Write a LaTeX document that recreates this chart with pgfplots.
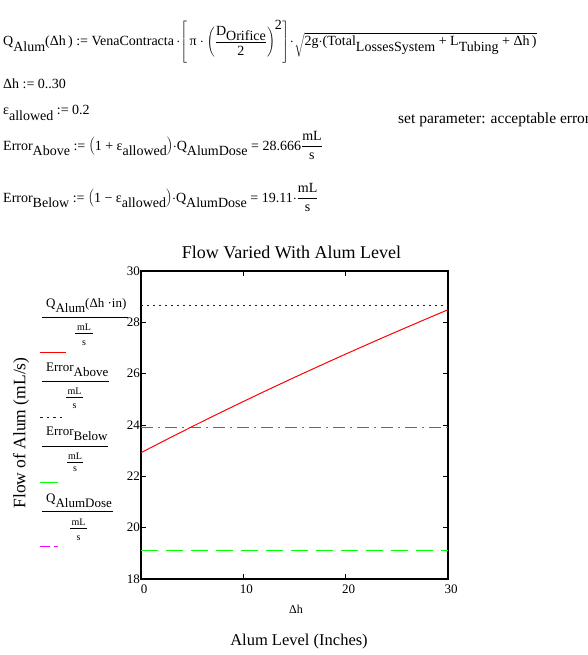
\documentclass[border=0pt]{standalone}
\usepackage{pgfplots}
\pgfplotsset{compat=1.18}
\usepackage{fontspec}
\setmainfont{Liberation Serif}
\newcommand{\sub}[1]{\raisebox{-0.4em}{#1}}
\newcommand{\fs}[1]{\fontsize{#1}{#1}\selectfont}
\definecolor{mcred}{RGB}{255,0,0}
\definecolor{mcblue}{RGB}{0,0,255}
\definecolor{mcgreen}{RGB}{0,255,0}
\definecolor{mcmag}{RGB}{255,0,255}
\pgfplotstableread{
h Q
0 22.920
1 23.127
2 23.332
3 23.536
4 23.738
5 23.938
6 24.137
7 24.334
8 24.529
9 24.723
10 24.915
11 25.106
12 25.296
13 25.484
14 25.670
15 25.856
16 26.039
17 26.222
18 26.404
19 26.584
20 26.763
21 26.940
22 27.117
23 27.293
24 27.467
25 27.640
26 27.812
27 27.983
28 28.154
29 28.323
30 28.491
}\qalum
\begin{document}
\begin{tikzpicture}
\useasboundingbox (0,0) rectangle (588pt,-655pt);
\fill[white] (0,0) rectangle (588pt,-655pt);
% ---------- worksheet text ----------
\node[anchor=base west, inner sep=0pt, font=\fs{14}] at (3pt,-46pt)
 {Q\sub{Alum}(Δh\,) := VenaContracta$\,\cdot\!\left[\,\mbox{π}\cdot\left(\displaystyle\frac{\mbox{D\sub{Orifice}}}{\mbox{2}}\right)^{\mbox{2}}\right]\!\cdot\!\sqrt{\mbox{2g$\cdot$(Total\sub{LossesSystem} + L\sub{Tubing} + Δh\,)}}$};
\node[anchor=base west, inner sep=0pt, font=\fs{14}] at (3pt,-89pt) {Δh := 0..30};
\node[anchor=base west, inner sep=0pt, font=\fs{14}] at (3pt,-115pt) {ε\sub{allowed} := 0.2};
\node[anchor=base west, inner sep=0pt, font=\fs{15.5}] at (398pt,-124pt) {set parameter: acceptable error};
\node[anchor=base west, inner sep=0pt, font=\fs{14}] at (3pt,-150pt)
 {Error\sub{Above} := $\left(\mbox{1 + ε\sub{allowed}}\right)$$\cdot$Q\sub{AlumDose} = 28.666$\displaystyle\frac{\mbox{mL}}{\mbox{s}}$};
\node[anchor=base west, inner sep=0pt, font=\fs{14}] at (3pt,-202pt)
 {Error\sub{Below} := $\left(\mbox{1 − ε\sub{allowed}}\right)$$\cdot$Q\sub{AlumDose} = 19.11$\cdot\displaystyle\frac{\mbox{mL}}{\mbox{s}}$};
% ---------- chart ----------
\begin{axis}[at={(141pt,-579pt)}, anchor=south west, scale only axis,
  width=307pt, height=308pt,
  xmin=0, xmax=30, ymin=18, ymax=30,
  xtick={0,10,20,30}, ytick={18,20,22,24,26,28,30},
  tick pos=both, xticklabel pos=lower, yticklabel pos=left,
  tick align=inside, major tick length=5pt,
  every tick/.style={black, line width=1pt},
  axis line style={black, line width=1.2pt},
  /pgf/number format/assume math mode=true,
  tick label style={font=\fs{13}},
  xticklabel style={anchor=north, inner sep=0pt, yshift=-6pt, xshift=3pt},
  yticklabel style={anchor=east, inner sep=0pt, xshift=-1pt},
  clip=true]
\addplot[mcblue, line width=1pt, dash pattern=on 2pt off 4pt] coordinates {(0,28.666) (30,28.666)};
\addplot[mcgreen, line width=1pt, dash pattern=on 17pt off 8pt] coordinates {(0,19.11) (30,19.11)};
\addplot[mcmag, line width=1pt, dash pattern=on 12pt off 5pt on 2pt off 5pt] coordinates {(0,23.888) (30,23.888)};
\addplot[mcred, line width=1pt] table[x=h, y=Q] {\qalum};
\end{axis}
\node[anchor=base, inner sep=0pt, font=\fs{18}] at (291.5pt,-258pt) {Flow Varied With Alum Level};
\node[anchor=base, inner sep=0pt, font=\fs{12}] at (296pt,-613pt) {Δh};
\node[anchor=base, inner sep=0pt, font=\fs{16.5}] at (299pt,-645pt) {Alum Level (Inches)};
\node[rotate=90, anchor=center, inner sep=0pt, font=\fs{17.5}] at (21pt,-433pt) {Flow of Alum (mL/s)};
% ---------- legend ----------
\begin{scope}[font=\fs{13}]
\node[anchor=base west, inner sep=0pt] at (46pt,-307pt) {Q\sub{Alum}(Δh ·in)};
\draw[line width=0.8pt] (42pt,-317pt) -- (128pt,-317pt);
\node[anchor=base, inner sep=0pt, font=\fs{10}] at (84pt,-330pt) {mL};
\draw[line width=0.6pt] (75pt,-333pt) -- (93pt,-333pt);
\node[anchor=base, inner sep=0pt, font=\fs{10}] at (84pt,-345pt) {s};
\draw[mcred, line width=1pt] (40pt,-352pt) -- (66pt,-352pt);

\node[anchor=base west, inner sep=0pt] at (46pt,-371pt) {Error\sub{Above}};
\draw[line width=0.8pt] (42pt,-381pt) -- (109pt,-381pt);
\node[anchor=base, inner sep=0pt, font=\fs{10}] at (74.5pt,-394pt) {mL};
\draw[line width=0.6pt] (66pt,-397pt) -- (83pt,-397pt);
\node[anchor=base, inner sep=0pt, font=\fs{10}] at (74.5pt,-408pt) {s};
\draw[mcblue, line width=1pt, dash pattern=on 2.5pt off 4pt] (40pt,-417pt) -- (63pt,-417pt);

\node[anchor=base west, inner sep=0pt] at (46pt,-435pt) {Error\sub{Below}};
\draw[line width=0.8pt] (42pt,-446pt) -- (108pt,-446pt);
\node[anchor=base, inner sep=0pt, font=\fs{10}] at (75pt,-459pt) {mL};
\draw[line width=0.6pt] (67pt,-462pt) -- (83pt,-462pt);
\node[anchor=base, inner sep=0pt, font=\fs{10}] at (75pt,-471pt) {s};
\draw[mcgreen, line width=1pt] (40pt,-482pt) -- (58pt,-482pt);

\node[anchor=base west, inner sep=0pt] at (46pt,-502pt) {Q\sub{AlumDose}};
\draw[line width=0.8pt] (42pt,-511pt) -- (113pt,-511pt);
\node[anchor=base, inner sep=0pt, font=\fs{10}] at (78.5pt,-525pt) {mL};
\draw[line width=0.6pt] (70pt,-528pt) -- (87pt,-528pt);
\node[anchor=base, inner sep=0pt, font=\fs{10}] at (78.5pt,-540pt) {s};
\draw[mcmag, line width=1pt] (40pt,-546pt) -- (50pt,-546pt);
\draw[mcmag, line width=1pt] (54pt,-546pt) -- (58pt,-546pt);
\end{scope}
\end{tikzpicture}
\end{document}
